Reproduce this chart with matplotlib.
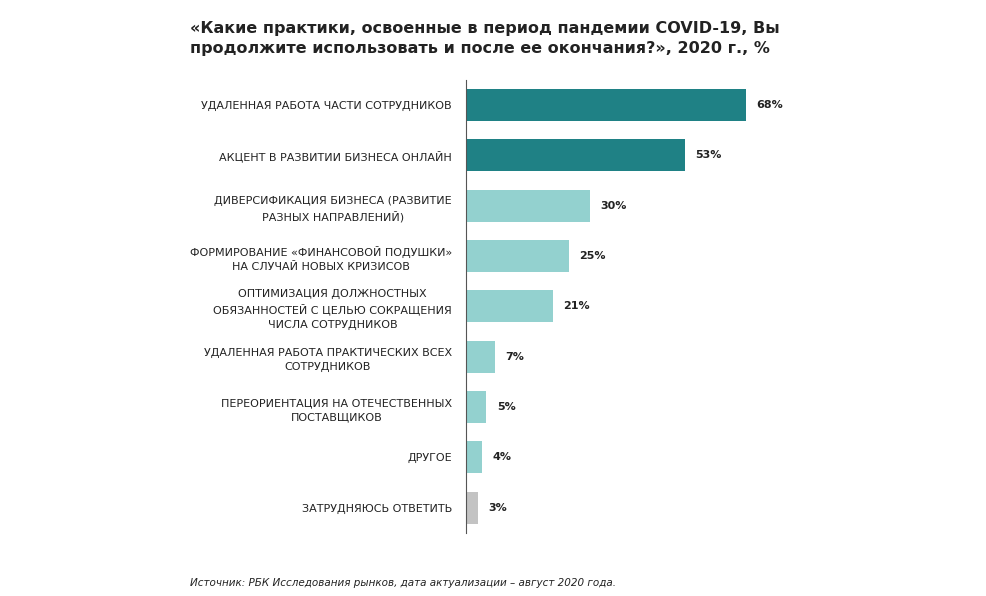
import matplotlib.pyplot as plt

labels = [
    "УДАЛЕННАЯ РАБОТА ЧАСТИ СОТРУДНИКОВ",
    "АКЦЕНТ В РАЗВИТИИ БИЗНЕСА ОНЛАЙН",
    "ДИВЕРСИФИКАЦИЯ БИЗНЕСА (РАЗВИТИЕ\nРАЗНЫХ НАПРАВЛЕНИЙ)",
    "ФОРМИРОВАНИЕ «ФИНАНСОВОЙ ПОДУШКИ»\nНА СЛУЧАЙ НОВЫХ КРИЗИСОВ",
    "ОПТИМИЗАЦИЯ ДОЛЖНОСТНЫХ\nОБЯЗАННОСТЕЙ С ЦЕЛЬЮ СОКРАЩЕНИЯ\nЧИСЛА СОТРУДНИКОВ",
    "УДАЛЕННАЯ РАБОТА ПРАКТИЧЕСКИХ ВСЕХ\nСОТРУДНИКОВ",
    "ПЕРЕОРИЕНТАЦИЯ НА ОТЕЧЕСТВЕННЫХ\nПОСТАВЩИКОВ",
    "ДРУГОЕ",
    "ЗАТРУДНЯЮСЬ ОТВЕТИТЬ",
]
values = [68, 53, 30, 25, 21, 7, 5, 4, 3]
colors = ["#1f8185", "#1f8185"] + ["#93d1cf"] * 6 + ["#c3c3c3"]

fig = plt.figure(figsize=(9.87, 5.96), dpi=100)
ax = fig.add_axes([0.472, 0.106, 0.418, 0.76])

y = list(range(len(values)))
ax.barh(y, values, height=0.64, color=colors)
for yi, v in zip(y, values):
    ax.text(v + 2.5, yi, f"{v}%", va="center", ha="left", fontsize=8, fontweight="bold", color="#222222")

ax.set_yticks(y)
ax.set_yticklabels(labels, fontsize=8, color="#222222", linespacing=1.5, multialignment="center")
ax.tick_params(axis="y", length=0, pad=10)
ax.set_ylim(len(values) - 0.5, -0.5)
ax.set_xlim(0, 100)
ax.set_xticks([])
for s in ["top", "right", "bottom"]:
    ax.spines[s].set_visible(False)
ax.spines["left"].set_color("#555555")

fig.text(0.192, 0.965, "«Какие практики, освоенные в период пандемии COVID-19, Вы\nпродолжите использовать и после ее окончания?», 2020 г., %",
         fontsize=11.5, fontweight="bold", va="top", ha="left", color="#222222", linespacing=1.4)
fig.text(0.192, 0.013, "Источник: РБК Исследования рынков, дата актуализации – август 2020 года.",
         fontsize=7.5, style="italic", ha="left", va="bottom", color="#222222")

fig.savefig("out.png", dpi=100)
